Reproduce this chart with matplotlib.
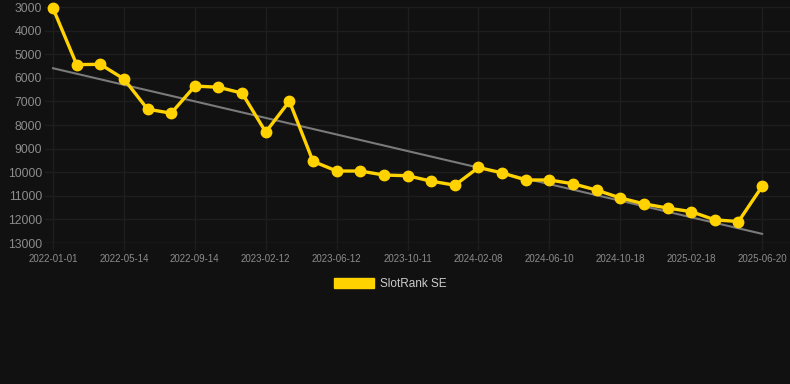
import numpy as np
import matplotlib
matplotlib.use('Agg')
import matplotlib.pyplot as plt
from matplotlib.patches import Patch

# Rank values (one point per observation, evenly spaced)
ranks = [3060, 5440, 5430, 6050, 7330, 7500, 6350, 6400, 6650, 8300,
         6990, 9540, 9950, 9950, 10120, 10150, 10380, 10550, 9800, 10030,
         10330, 10330, 10490, 10760, 11090, 11340, 11520, 11670, 12020, 12090,
         10600]
tick_labels = ['2022-01-01', '2022-05-14', '2022-09-14', '2023-02-12', '2023-06-12',
               '2023-10-11', '2024-02-08', '2024-06-10', '2024-10-18', '2025-02-18',
               '2025-06-20']
y_ticks = [3000, 4000, 5000, 6000, 7000, 8000, 9000, 10000, 11000, 12000, 13000]
series_name = 'SlotRank SE'

bg = '#111111'
yellow = '#FFD200'
tick_col = '#8c8c8c'
grid_col = '#1e1e1e'

plt.rcParams['font.family'] = ['Liberation Sans', 'DejaVu Sans']

W, H = 790, 384
fig = plt.figure(figsize=(W / 100, H / 100), dpi=100, facecolor=bg)
ax = fig.add_axes([45 / W, (H - 243) / H, 745 / W, 236 / H], facecolor=bg)

x = np.arange(len(ranks))

# linear trend line
coef = np.polyfit(x, ranks, 1)
ax.plot(x, np.polyval(coef, x), color='#7a7a7a', lw=1.5, zorder=2)

ax.plot(x, ranks, color=yellow, lw=2.4, marker='o', markersize=7.5,
        clip_on=False, zorder=3)

ax.set_xlim(-0.34, len(ranks) - 1 + 1.18)
ax.set_ylim(13000, 3000)
ax.set_yticks(y_ticks)
ax.set_yticklabels([str(v) for v in y_ticks])
ax.set_xticks(x[::3])
ax.set_xticklabels(tick_labels)

ax.grid(True, color=grid_col, lw=1)
ax.set_axisbelow(True)
for s in ax.spines.values():
    s.set_visible(False)
ax.axhline(13000, color='#2a2a2a', lw=1, zorder=1)

ax.tick_params(axis='y', colors=tick_col, labelsize=8.7, length=0, pad=2)
ax.tick_params(axis='x', colors=tick_col, labelsize=7, length=5, width=1,
               color=grid_col, pad=3)

fig.legend(handles=[Patch(facecolor=yellow, edgecolor=yellow, label=series_name)],
           loc='center', bbox_to_anchor=(390 / W, 1 - 284 / H), frameon=False,
           fontsize=8.5, labelcolor='#cccccc', handlelength=3.4, handleheight=1.0,
           handletextpad=0.5)

fig.savefig('out.png', dpi=100, facecolor=bg)
